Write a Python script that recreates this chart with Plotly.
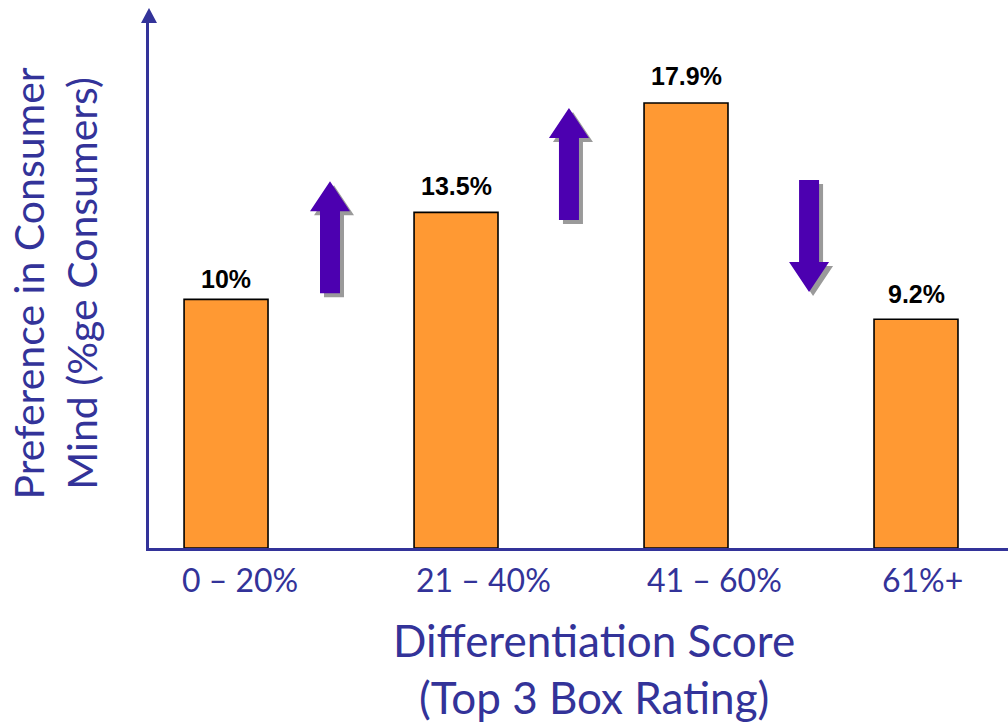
import plotly.graph_objects as go

# Preference share by differentiation-score band
categories = ["0 – 20%", "21 – 40%", "41 – 60%", "61%+"]
preference = [10.0, 13.5, 17.9, 9.2]
value_labels = ["10%", "13.5%", "17.9%", "9.2%"]

BLUE = "#333399"
ORANGE = "#FF9933"
PURPLE = "#4C00B0"
TEXT_FONT = "Lato"

x_pos = list(range(len(categories)))

fig = go.Figure()
fig.add_trace(go.Bar(
    x=x_pos,
    y=preference,
    width=0.365,
    marker=dict(color=ORANGE, line=dict(color="black", width=1.6)),
    hoverinfo="skip",
))

# value labels above each bar
label_shift = [4, 10, 11, 9]
for i, (v, t) in enumerate(zip(preference, value_labels)):
    fig.add_annotation(
        x=i, y=v, text=f"<b>{t}</b>", showarrow=False,
        yanchor="bottom", yshift=label_shift[i],
        font=dict(family="Liberation Sans", size=25, color="black"),
    )

# category labels under the axis
tick_shift = [14, 27, 28, 6]
for i, c in enumerate(categories):
    fig.add_annotation(
        x=i, y=0, yref="paper", text=c, showarrow=False,
        yanchor="top", xshift=tick_shift[i], yshift=-10,
        font=dict(family=TEXT_FONT, size=32, color=BLUE),
    )

# axis titles
fig.add_annotation(
    x=0.518, xref="paper", y=0, yref="paper",
    text="Differentiation Score<br>(Top 3 Box Rating)",
    showarrow=False, yanchor="top", yshift=-64,
    font=dict(family=TEXT_FONT, size=44, color=BLUE),
)
fig.add_annotation(
    x=0, xref="paper", y=0.5, yref="paper",
    text="Preference in Consumer<br>Mind (%ge Consumers)",
    showarrow=False, textangle=-90, xanchor="center", xshift=-95, yshift=2,
    font=dict(family=TEXT_FONT, size=41, color=BLUE),
)

# block arrows between bars: (x in category units, base y in value units, direction)
ARROWS = [(0.452, 10.25, "up"), (1.491, 13.2, "up"), (2.535, 10.3, "down")]


def arrow_path(direction, dx=0, dy=0):
    L, H, hw, sw = 112, 30, 20, 10
    if direction == "up":
        pts = [(-sw, 0), (sw, 0), (sw, L - H), (hw, L - H), (0, L),
               (-hw, L - H), (-sw, L - H)]
    else:
        pts = [(-sw, L), (sw, L), (sw, H), (hw, H), (0, 0),
               (-hw, H), (-sw, H)]
    return "M " + " L ".join(f"{x + dx},{y + dy}" for x, y in pts) + " Z"


for ax, ay, d in ARROWS:
    for color, dx, dy in (("#9A9A9A", 4, -4), (PURPLE, 0, 0)):
        fig.add_shape(
            type="path", xref="x", yref="y",
            xsizemode="pixel", ysizemode="pixel",
            xanchor=ax, yanchor=ay,
            path=arrow_path(d, dx, dy),
            fillcolor=color, line=dict(width=0), layer="above",
        )

# arrowhead on top of the value axis
fig.add_shape(
    type="path", xref="paper", yref="paper",
    xsizemode="pixel", ysizemode="pixel", xanchor=0, yanchor=1,
    path="M -8,0 L 8,0 L 0,15 Z",
    fillcolor=BLUE, line=dict(width=0),
)

fig.update_layout(
    width=1008, height=722,
    margin=dict(l=149, r=0, t=23, b=174),
    plot_bgcolor="white", paper_bgcolor="white",
    showlegend=False,
    xaxis=dict(range=[-0.335, 3.4], showticklabels=False, ticks="",
               showgrid=False, zeroline=False,
               showline=True, linecolor=BLUE, linewidth=2.5),
    yaxis=dict(range=[0, 21.12], showticklabels=False, ticks="",
               showgrid=False, zeroline=False,
               showline=True, linecolor=BLUE, linewidth=2.5),
)

fig.write_html("out.html")
